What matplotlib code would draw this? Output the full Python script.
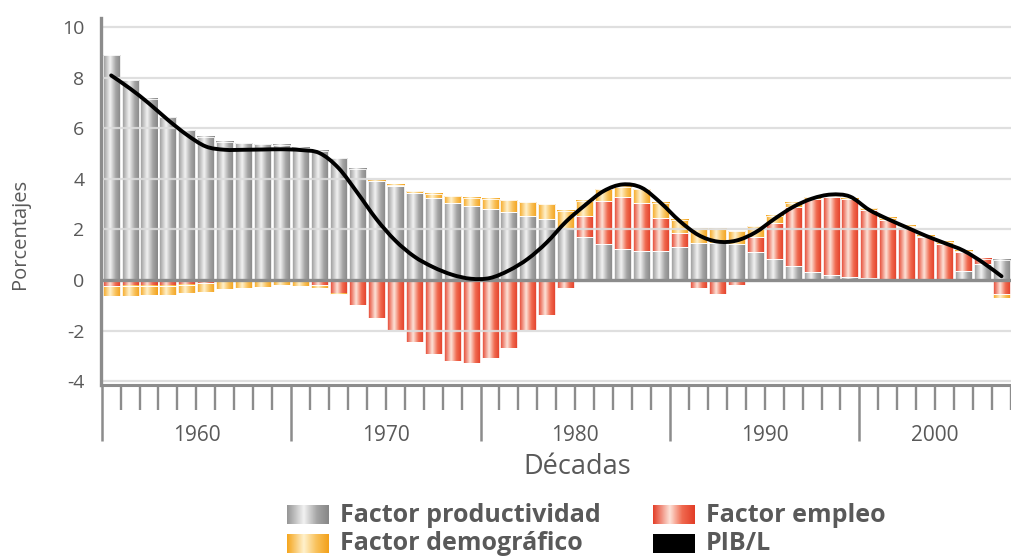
import numpy as np
import matplotlib
matplotlib.use("Agg")
import matplotlib.pyplot as plt
from matplotlib.colors import LinearSegmentedColormap
from matplotlib.path import Path
from matplotlib.patches import PathPatch
import matplotlib.transforms as mtransforms

plt.rcParams['font.family'] = ['Open Sans', 'DejaVu Sans']

# Years 1960-2007, one bar per year
years = list(range(1960, 2008))

# Factor productividad (gray)
productividad = [8.88, 7.90, 7.16, 6.43, 5.93, 5.67, 5.46, 5.41, 5.36, 5.35,
                 5.22, 5.12, 4.82, 4.39, 3.91, 3.72, 3.46, 3.23, 3.06, 2.93,
                 2.80, 2.69, 2.54, 2.43, 2.05, 1.70, 1.43, 1.22, 1.16, 1.13,
                 1.30, 1.46, 1.46, 1.42, 1.10, 0.85, 0.55, 0.30, 0.18, 0.12,
                 0.08, 0.05, 0.03, 0.03, 0.05, 0.36, 0.65, 0.80]

# Factor empleo (red)
empleo = [-0.25, -0.25, -0.22, -0.22, -0.18, -0.12, -0.03, 0.0, 0.0, 0.0,
          -0.05, -0.20, -0.55, -1.00, -1.50, -1.97, -2.46, -2.93, -3.19, -3.28,
          -3.08, -2.69, -1.97, -1.38, -0.32, 0.82, 1.70, 2.05, 1.90, 1.33,
          0.54, -0.30, -0.57, -0.20, 0.62, 1.42, 2.33, 2.92, 3.12, 3.08,
          2.70, 2.31, 2.07, 1.66, 1.37, 0.74, 0.20, -0.55]

# Factor demografico (yellow)
demografico = [-0.38, -0.40, -0.38, -0.38, -0.35, -0.35, -0.33, -0.32, -0.27, -0.20,
               -0.18, -0.10, -0.05, 0.00, 0.02, 0.05, 0.05, 0.16, 0.26, 0.32,
               0.42, 0.47, 0.54, 0.58, 0.68, 0.60, 0.45, 0.42, 0.55, 0.60,
               0.55, 0.56, 0.56, 0.50, 0.42, 0.28, 0.17, 0.05, 0.02, 0.02,
               0.06, 0.08, 0.05, 0.06, 0.10, 0.05, 0.00, -0.15]

# PIB/L (smoothed line)
pib_l = [8.09, 7.57, 6.98, 6.33, 5.74, 5.28, 5.15, 5.15, 5.16, 5.17,
         5.14, 5.02, 4.43, 3.45, 2.41, 1.56, 0.93, 0.51, 0.21, 0.05,
         0.08, 0.38, 0.84, 1.49, 2.30, 2.95, 3.52, 3.78, 3.65, 3.06,
         2.34, 1.78, 1.52, 1.56, 1.88, 2.41, 2.89, 3.22, 3.38, 3.30,
         2.78, 2.41, 2.08, 1.75, 1.46, 1.16, 0.70, 0.15]

yticks = [-4, -2, 0, 2, 4, 6, 8, 10]

text_col = '#595959'
axis_col = '#8c8c8c'

cm_gray = LinearSegmentedColormap.from_list('g', [(0, '#969696'), (0.4, '#f2f2f2'), (0.72, '#a4a4a4'), (1, '#878787')])
cm_red = LinearSegmentedColormap.from_list('r', [(0, '#e4402a'), (0.4, '#fde2d8'), (0.7, '#f06a50'), (1, '#e23d27')])
cm_yel = LinearSegmentedColormap.from_list('y', [(0, '#f5a61f'), (0.4, '#fff1cc'), (0.7, '#f9c25c'), (1, '#f3a11a')])
grad = np.linspace(0, 1, 64)[None, :]

fig = plt.figure(figsize=(10.11, 5.6), dpi=100)
ax = fig.add_axes([101 / 1011, (560 - 385) / 560, 910 / 1011, 367 / 560])

x = np.arange(len(years))
prod = np.array(productividad)
emp = np.array(empleo)
dem = np.array(demografico)

emp_bottom = np.where(emp >= 0, prod, 0)
dem_bottom = np.where(dem >= 0, prod + np.maximum(emp, 0), np.minimum(emp, 0))

w = 0.9
b_prod = ax.bar(x, prod, w, edgecolor='white', linewidth=0.6, zorder=2)
b_emp = ax.bar(x, emp, w, bottom=emp_bottom, edgecolor='white', linewidth=0.6, zorder=2)
b_dem = ax.bar(x, dem, w, bottom=dem_bottom, edgecolor='white', linewidth=0.6, zorder=2)


def shade(bars, cmap):
    for p in bars:
        h = p.get_height()
        if abs(h) < 1e-9:
            p.set_visible(False)
            continue
        x0, y0 = p.get_x(), p.get_y()
        ax.imshow(grad, cmap=cmap, extent=(x0, x0 + p.get_width(), y0, y0 + h),
                  aspect='auto', interpolation='bilinear', zorder=1.5)
        p.set_facecolor('none')


shade(b_prod, cm_gray)
shade(b_emp, cm_red)
shade(b_dem, cm_yel)

# gridlines over bars
for v in yticks:
    if v != 0:
        ax.axhline(v, color='#dcdcdc', lw=1.6, alpha=0.9, zorder=2.5)
ax.axhline(0, color=axis_col, lw=2.4, zorder=3)

# smoothed PIB/L line (Catmull-Rom as bezier)
P = np.column_stack([x, pib_l]).astype(float)
verts = [P[0]]
codes = [Path.MOVETO]
n = len(P)
for i in range(n - 1):
    p0 = P[max(i - 1, 0)]
    p1 = P[i]
    p2 = P[i + 1]
    p3 = P[min(i + 2, n - 1)]
    verts += [p1 + (p2 - p0) / 6, p2 - (p3 - p1) / 6, p2]
    codes += [Path.CURVE4] * 3
ax.add_patch(PathPatch(Path(verts, codes), fill=False, edgecolor='black', lw=2.8,
                       capstyle='round', zorder=4))

ax.set_xlim(-0.535, 47.18)
ax.set_ylim(-4.15, 10.36)

for s in ['top', 'right']:
    ax.spines[s].set_visible(False)
ax.spines['left'].set_color(axis_col)
ax.spines['left'].set_linewidth(2.4)
ax.spines['bottom'].set_color(axis_col)
ax.spines['bottom'].set_linewidth(2.2)

ax.set_yticks(yticks)
ax.set_yticklabels([str(v) for v in yticks])
ax.tick_params(axis='y', length=0, pad=12, labelsize=14, labelcolor=text_col)

# category axis: a tick per year, long tick per decade
decades = sorted(set(y // 10 * 10 for y in years))
bounds = [years.index(d) - 0.5 if d in years else -0.5 for d in decades]
ax.set_xticks(bounds)
ax.set_xticklabels([])
ax.set_xticks(np.arange(-0.5, len(years), 1), minor=True)
ax.tick_params(axis='x', which='major', length=40, width=1.8, color=axis_col)
ax.tick_params(axis='x', which='minor', length=18, width=1.7, color=axis_col)

trans = mtransforms.blended_transform_factory(ax.transData, ax.transAxes)
for d in decades:
    idx = [i for i, y in enumerate(years) if y // 10 * 10 == d]
    ax.text(np.mean(idx), -0.137, str(d), transform=trans, ha='center', va='center',
            fontsize=15, color=text_col)

fig.text(577 / 1011, 1 - 467 / 560, 'Décadas', ha='center', va='center',
         fontsize=19.5, color=text_col)
fig.text(20 / 1011, 1 - 234 / 560, 'Porcentajes', ha='center', va='center',
         rotation=90, fontsize=14.5, color=text_col)

# legend (second row nudged up so it stays inside the image)
leg = [('Factor productividad', cm_gray, 287, 505), ('Factor empleo', cm_red, 653, 505),
       ('Factor demográfico', cm_yel, 287, 534), ('PIB/L', None, 653, 534)]
for label, cmap, px, py in leg:
    lax = fig.add_axes([px / 1011, 1 - (py + 19) / 560, 42 / 1011, 19 / 560])
    if cmap is None:
        lax.imshow(np.zeros((1, 2)), cmap='gray', vmin=0, vmax=1, aspect='auto')
    else:
        lax.imshow(grad, cmap=cmap, aspect='auto', interpolation='bilinear')
    lax.axis('off')
    fig.text((px + 53) / 1011, 1 - (py + 10) / 560, label, ha='left', va='center',
             fontsize=18, fontweight='bold', color=text_col)

fig.savefig('out.png', dpi=100)
